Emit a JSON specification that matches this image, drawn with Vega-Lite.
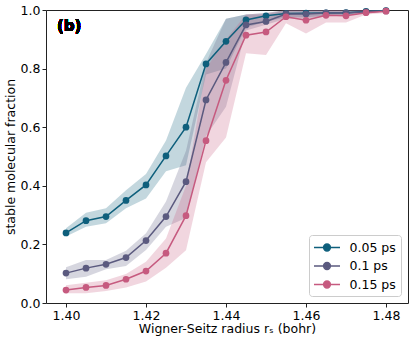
{
  "$schema": "https://vega.github.io/schema/vega-lite/v6.json",
  "autosize": {"type": "none"},
  "padding": {"left": 46, "top": 10, "right": 8, "bottom": 40},
  "width": 362,
  "height": 293,
  "config": {
    "font": "DejaVu Sans",
    "view": {"stroke": "#222", "strokeWidth": 1},
    "axis": {"domain": false, "grid": false, "tickColor": "#222", "tickSize": 4, "labelFont": "DejaVu Sans", "titleFont": "DejaVu Sans", "labelFontSize": 12.5, "labelColor": "black", "titleFontSize": 12.5, "titleFontWeight": "normal", "titleColor": "black", "labelPadding": 2},
    "legend": {"labelFont": "DejaVu Sans", "labelFontSize": 12.5, "labelColor": "black"}
  },
  "data": {"values": [
    {"rs": 1.400, "s": "0.05 ps", "y": 0.239, "lo": 0.227, "hi": 0.255},
    {"rs": 1.405, "s": "0.05 ps", "y": 0.281, "lo": 0.260, "hi": 0.308},
    {"rs": 1.410, "s": "0.05 ps", "y": 0.295, "lo": 0.272, "hi": 0.323},
    {"rs": 1.415, "s": "0.05 ps", "y": 0.350, "lo": 0.323, "hi": 0.385},
    {"rs": 1.420, "s": "0.05 ps", "y": 0.403, "lo": 0.357, "hi": 0.440},
    {"rs": 1.425, "s": "0.05 ps", "y": 0.502, "lo": 0.450, "hi": 0.555},
    {"rs": 1.430, "s": "0.05 ps", "y": 0.600, "lo": 0.470, "hi": 0.735},
    {"rs": 1.435, "s": "0.05 ps", "y": 0.816, "lo": 0.780, "hi": 0.850},
    {"rs": 1.440, "s": "0.05 ps", "y": 0.893, "lo": 0.800, "hi": 0.970},
    {"rs": 1.445, "s": "0.05 ps", "y": 0.966, "lo": 0.940, "hi": 0.985},
    {"rs": 1.450, "s": "0.05 ps", "y": 0.980, "lo": 0.960, "hi": 0.990},
    {"rs": 1.455, "s": "0.05 ps", "y": 0.988, "lo": 0.975, "hi": 1.0},
    {"rs": 1.460, "s": "0.05 ps", "y": 0.989, "lo": 0.975, "hi": 1.0},
    {"rs": 1.465, "s": "0.05 ps", "y": 0.990, "lo": 0.980, "hi": 1.0},
    {"rs": 1.470, "s": "0.05 ps", "y": 0.991, "lo": 0.980, "hi": 1.0},
    {"rs": 1.475, "s": "0.05 ps", "y": 0.995, "lo": 0.990, "hi": 1.0},
    {"rs": 1.480, "s": "0.05 ps", "y": 0.998, "lo": 0.995, "hi": 1.0},
    {"rs": 1.400, "s": "0.1 ps", "y": 0.102, "lo": 0.081, "hi": 0.122},
    {"rs": 1.405, "s": "0.1 ps", "y": 0.119, "lo": 0.090, "hi": 0.147},
    {"rs": 1.410, "s": "0.1 ps", "y": 0.132, "lo": 0.115, "hi": 0.147},
    {"rs": 1.415, "s": "0.1 ps", "y": 0.155, "lo": 0.126, "hi": 0.178},
    {"rs": 1.420, "s": "0.1 ps", "y": 0.213, "lo": 0.181, "hi": 0.238},
    {"rs": 1.425, "s": "0.1 ps", "y": 0.295, "lo": 0.260, "hi": 0.346},
    {"rs": 1.430, "s": "0.1 ps", "y": 0.414, "lo": 0.290, "hi": 0.520},
    {"rs": 1.435, "s": "0.1 ps", "y": 0.693, "lo": 0.570, "hi": 0.820},
    {"rs": 1.440, "s": "0.1 ps", "y": 0.821, "lo": 0.670, "hi": 0.970},
    {"rs": 1.445, "s": "0.1 ps", "y": 0.949, "lo": 0.930, "hi": 0.985},
    {"rs": 1.450, "s": "0.1 ps", "y": 0.961, "lo": 0.950, "hi": 0.985},
    {"rs": 1.455, "s": "0.1 ps", "y": 0.986, "lo": 0.970, "hi": 1.0},
    {"rs": 1.460, "s": "0.1 ps", "y": 0.986, "lo": 0.970, "hi": 1.0},
    {"rs": 1.465, "s": "0.1 ps", "y": 0.990, "lo": 0.980, "hi": 1.0},
    {"rs": 1.470, "s": "0.1 ps", "y": 0.990, "lo": 0.980, "hi": 1.0},
    {"rs": 1.475, "s": "0.1 ps", "y": 0.994, "lo": 0.990, "hi": 1.0},
    {"rs": 1.480, "s": "0.1 ps", "y": 0.997, "lo": 0.995, "hi": 1.0},
    {"rs": 1.400, "s": "0.15 ps", "y": 0.044, "lo": 0.033, "hi": 0.061},
    {"rs": 1.405, "s": "0.15 ps", "y": 0.053, "lo": 0.033, "hi": 0.069},
    {"rs": 1.410, "s": "0.15 ps", "y": 0.060, "lo": 0.041, "hi": 0.078},
    {"rs": 1.415, "s": "0.15 ps", "y": 0.081, "lo": 0.053, "hi": 0.099},
    {"rs": 1.420, "s": "0.15 ps", "y": 0.109, "lo": 0.073, "hi": 0.141},
    {"rs": 1.425, "s": "0.15 ps", "y": 0.170, "lo": 0.120, "hi": 0.220},
    {"rs": 1.430, "s": "0.15 ps", "y": 0.298, "lo": 0.180, "hi": 0.400},
    {"rs": 1.435, "s": "0.15 ps", "y": 0.554, "lo": 0.480, "hi": 0.800},
    {"rs": 1.440, "s": "0.15 ps", "y": 0.760, "lo": 0.565, "hi": 0.900},
    {"rs": 1.445, "s": "0.15 ps", "y": 0.914, "lo": 0.852, "hi": 0.985},
    {"rs": 1.450, "s": "0.15 ps", "y": 0.925, "lo": 0.846, "hi": 0.990},
    {"rs": 1.455, "s": "0.15 ps", "y": 0.977, "lo": 0.955, "hi": 1.0},
    {"rs": 1.460, "s": "0.15 ps", "y": 0.965, "lo": 0.920, "hi": 1.0},
    {"rs": 1.465, "s": "0.15 ps", "y": 0.982, "lo": 0.957, "hi": 1.0},
    {"rs": 1.470, "s": "0.15 ps", "y": 0.980, "lo": 0.957, "hi": 1.0},
    {"rs": 1.475, "s": "0.15 ps", "y": 0.991, "lo": 0.985, "hi": 1.0},
    {"rs": 1.480, "s": "0.15 ps", "y": 0.996, "lo": 0.990, "hi": 1.0}
  ]},
  "encoding": {
    "x": {"field": "rs", "type": "quantitative", "scale": {"domain": [1.395, 1.4855], "nice": false, "zero": false},
      "axis": {"values": [1.40, 1.42, 1.44, 1.46, 1.48], "format": ".2f", "title": "Wigner-Seitz radius rₛ (bohr)", "titlePadding": 1}}
  },
  "layer": [
    {"mark": {"type": "area", "opacity": 0.25},
     "encoding": {"y": {"field": "lo", "type": "quantitative"}, "y2": {"field": "hi"},
       "color": {"field": "s", "type": "nominal", "scale": {"domain": ["0.05 ps", "0.1 ps", "0.15 ps"], "range": ["#0e5f7c", "#5b5a7f", "#c65a7f"]},
         "legend": {"title": null, "orient": "bottom-right", "offset": 7, "fillColor": "white", "strokeColor": "#ccc", "cornerRadius": 3, "padding": 5, "rowPadding": 4.5, "labelOffset": 15, "symbolOffset": 5.5,
           "symbolType": "M-2,0H2M0.52,0A0.52,0.52,0,1,1,-0.52,0A0.52,0.52,0,1,1,0.52,0Z", "symbolSize": 169, "symbolStrokeWidth": 1.5, "symbolOpacity": 1}}}},
    {"mark": {"type": "line", "strokeWidth": 1.5},
     "encoding": {"y": {"field": "y", "type": "quantitative", "scale": {"domain": [0, 1], "nice": false}, "axis": {"values": [0, 0.2, 0.4, 0.6, 0.8, 1.0], "format": ".1f", "title": "stable molecular fraction", "titlePadding": 3}},
       "color": {"field": "s", "type": "nominal"}}},
    {"mark": {"type": "point", "filled": true, "size": 45, "opacity": 1},
     "encoding": {"y": {"field": "y", "type": "quantitative"}, "color": {"field": "s", "type": "nominal"}}},
    {"mark": {"type": "text", "text": "(b)", "font": "DejaVu Sans", "fontSize": 15, "fontWeight": "bold", "align": "left", "baseline": "alphabetic", "fill": "black"},
     "encoding": {"x": {"datum": 1.39775}, "y": {"datum": 0.93}}}
  ]
}
